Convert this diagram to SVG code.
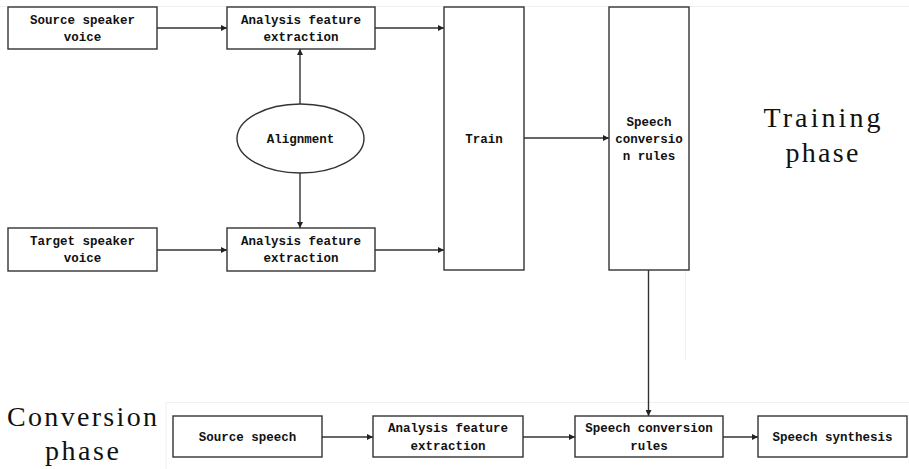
<svg xmlns="http://www.w3.org/2000/svg" width="909" height="469" viewBox="0 0 909 469">
  <style>
    .box { fill: #fff; stroke: #333; stroke-width: 1.4; }
    .lbl { font-family: "Liberation Mono", "DejaVu Sans Mono", monospace; font-size: 12.5px; font-weight: bold; fill: #111; text-anchor: middle; }
    .phase { font-family: "Liberation Serif", "DejaVu Serif", serif; font-size: 28px; fill: #111; text-anchor: middle; }
    .wire { fill: none; stroke: #333; stroke-width: 1.4; marker-end: url(#arrow); }
    .frame { fill: none; stroke: #f0f0f0; stroke-width: 1; }
  </style>
  <defs>
    <marker id="arrow" viewBox="0 0 10 10" refX="10" refY="5" markerWidth="8" markerHeight="6" markerUnits="userSpaceOnUse" orient="auto">
      <path d="M0,0 L10,5 L0,10 z" fill="#222"/>
    </marker>
  </defs>

  <rect width="909" height="469" fill="#fff"/>

  <!-- faint panel edges -->
  <path class="frame" d="M0,6.5 H909"/>
  <path class="frame" d="M166,469 V402.5 H909"/>
  <path class="frame" d="M685.5,270 V360"/>

  <!-- phase titles -->
  <text class="phase" x="822" y="127" textLength="117" lengthAdjust="spacing">Training</text>
  <text class="phase" x="822" y="162" textLength="73" lengthAdjust="spacing">phase</text>
  <text class="phase" x="82" y="426" textLength="150" lengthAdjust="spacing">Conversion</text>
  <text class="phase" x="82" y="460" textLength="74" lengthAdjust="spacing">phase</text>

  <!-- connectors -->
  <g id="connectors">
    <path class="wire" d="M157,28 H227"/>
    <path class="wire" d="M375,28 H444"/>
    <path class="wire" d="M157,250 H227"/>
    <path class="wire" d="M375,250 H444"/>
    <path class="wire" d="M300,104 V49"/>
    <path class="wire" d="M300,172 V228"/>
    <path class="wire" d="M524,138 H609"/>
    <path class="wire" d="M648.5,270 V416"/>
    <path class="wire" d="M322,437 H373"/>
    <path class="wire" d="M523,437 H575"/>
    <path class="wire" d="M723,437 H758"/>
  </g>

  <!-- training phase nodes -->
  <g id="source-voice">
    <rect class="box" x="8" y="7" width="149" height="42"/>
    <text class="lbl" x="82.5" y="24">Source speaker</text>
    <text class="lbl" x="82.5" y="41">voice</text>
  </g>
  <g id="analysis-source">
    <rect class="box" x="227" y="7" width="148" height="42"/>
    <text class="lbl" x="301" y="24">Analysis feature</text>
    <text class="lbl" x="301" y="41">extraction</text>
  </g>
  <g id="alignment">
    <ellipse class="box" cx="300.5" cy="138.5" rx="63.5" ry="34.5"/>
    <text class="lbl" x="300.5" y="143">Alignment</text>
  </g>
  <g id="target-voice">
    <rect class="box" x="8" y="228" width="149" height="43"/>
    <text class="lbl" x="82.5" y="245">Target speaker</text>
    <text class="lbl" x="82.5" y="262">voice</text>
  </g>
  <g id="analysis-target">
    <rect class="box" x="227" y="228" width="148" height="43"/>
    <text class="lbl" x="301" y="245">Analysis feature</text>
    <text class="lbl" x="301" y="262">extraction</text>
  </g>
  <g id="train">
    <rect class="box" x="444" y="7" width="80" height="263"/>
    <text class="lbl" x="484" y="143">Train</text>
  </g>
  <g id="conversion-rules-train">
    <rect class="box" x="609" y="7" width="80" height="263"/>
    <text class="lbl" x="649" y="126">Speech</text>
    <text class="lbl" x="649" y="143">conversio</text>
    <text class="lbl" x="649" y="160">n rules</text>
  </g>

  <!-- conversion phase nodes -->
  <g id="source-speech">
    <rect class="box" x="173" y="416" width="149" height="41"/>
    <text class="lbl" x="247.5" y="441">Source speech</text>
  </g>
  <g id="analysis-conv">
    <rect class="box" x="373" y="416" width="150" height="41"/>
    <text class="lbl" x="448" y="432">Analysis feature</text>
    <text class="lbl" x="448" y="450">extraction</text>
  </g>
  <g id="conversion-rules-conv">
    <rect class="box" x="575" y="416" width="148" height="41"/>
    <text class="lbl" x="649" y="432">Speech conversion</text>
    <text class="lbl" x="649" y="450">rules</text>
  </g>
  <g id="speech-synthesis">
    <rect class="box" x="758" y="416" width="149" height="41"/>
    <text class="lbl" x="832.5" y="441">Speech synthesis</text>
  </g>
</svg>
